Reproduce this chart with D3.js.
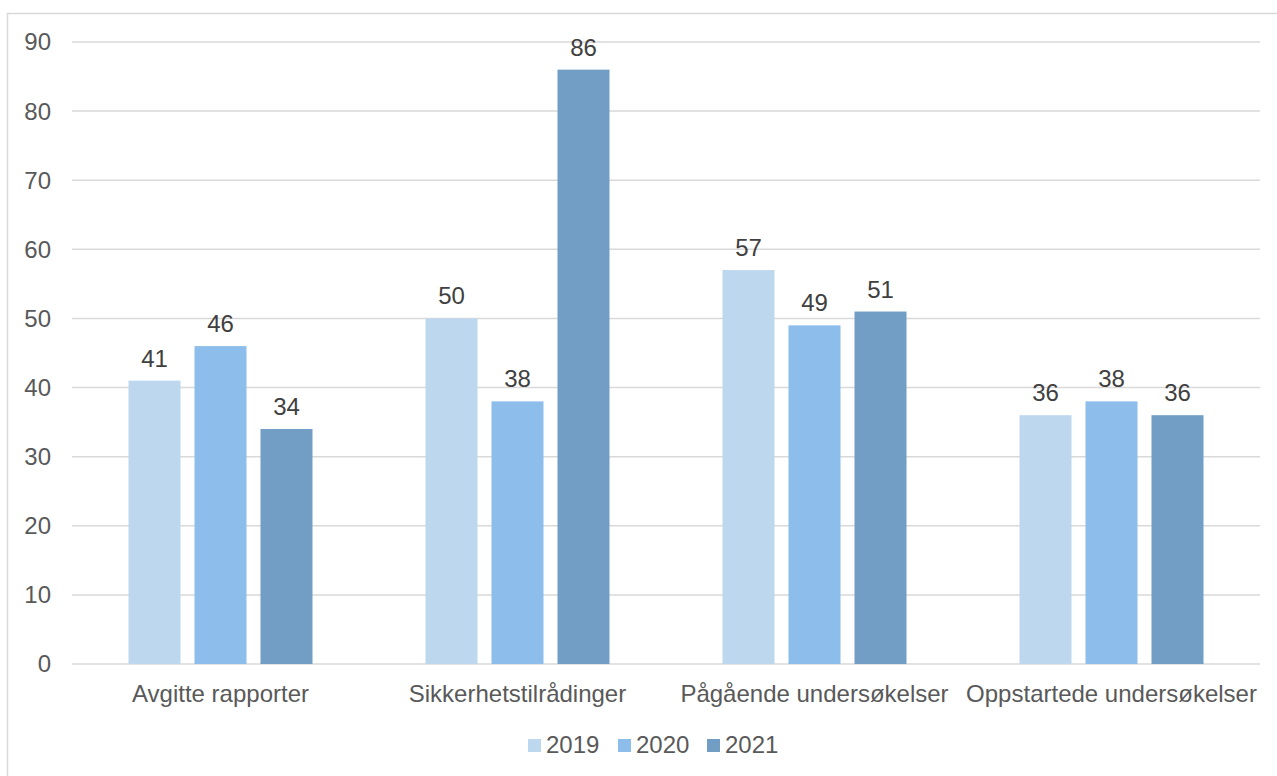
<!DOCTYPE html>
<html><head><meta charset="utf-8">
<script src="https://cdn.jsdelivr.net/npm/d3@7"></script>
<style>body{margin:0;background:#fff}svg{display:block}text{font-family:"Liberation Sans",Arial,sans-serif}</style>
</head><body><svg id="c" width="1277" height="776"></svg>
<script>
const categories = ["Avgitte rapporter","Sikkerhetstilrådinger","Pågående undersøkelser","Oppstartede undersøkelser"];
const series = ["2019","2020","2021"];
const values2019 = [41,50,57,36];
const values2020 = [46,38,49,38];
const values2021 = [34,86,51,36];
const yTicks = [0,10,20,30,40,50,60,70,80,90];
const colors = ["#BDD7EE","#8DBEEB","#729DC4"];
const allValues = [values2019, values2020, values2021];

(function(){
const svg = d3.select("#c");
const pL = 72, pR = 1260, pT = 42, pB = 664;
const fs = "24px";
svg.append("rect").attr("x",7.5).attr("y",13.5).attr("width",1300).attr("height",800)
  .attr("fill","none").attr("stroke","#d9d9d9").attr("stroke-width",1.5);

const y = d3.scaleLinear().domain([0,90]).range([pB, pT]);
const x0 = d3.scaleBand().domain(categories).range([pL,pR]).padding(0);
const groupW = 184;
const x1 = d3.scaleBand().domain(series).range([0,groupW]).paddingInner(0.212).paddingOuter(0);
const off = (x0.bandwidth()-groupW)/2;

svg.append("g").selectAll("line").data(yTicks).join("line")
  .attr("x1",pL).attr("x2",pR).attr("y1",d=>y(d)).attr("y2",d=>y(d))
  .attr("stroke","#d9d9d9").attr("stroke-width",1.5);

svg.append("g").selectAll("text").data(yTicks).join("text")
  .attr("x",51).attr("y",d=>y(d)).attr("dy","0.35em").attr("text-anchor","end")
  .attr("font-size",fs).attr("fill","#595959").text(d=>d);

const g = svg.append("g");
series.forEach((s,si)=>{
  const vals = allValues[si];
  g.selectAll(null).data(categories).join("rect")
    .attr("x",c=>x0(c)+off+x1(s)).attr("width",x1.bandwidth())
    .attr("y",(c,i)=>y(vals[i])).attr("height",(c,i)=>y(0)-y(vals[i]))
    .attr("fill",colors[si]);
  g.selectAll(null).data(categories).join("text")
    .attr("x",c=>x0(c)+off+x1(s)+x1.bandwidth()/2)
    .attr("y",(c,i)=>y(vals[i])-14).attr("text-anchor","middle")
    .attr("font-size",fs).attr("fill","#404040").text((c,i)=>vals[i]);
});

svg.append("g").selectAll("text").data(categories).join("text")
  .attr("x",c=>x0(c)+x0.bandwidth()/2).attr("y",702).attr("text-anchor","middle")
  .attr("font-size",fs).attr("fill","#595959").text(c=>c);

const legX = [528,618,707];
const lg = svg.append("g");
series.forEach((s,si)=>{
  lg.append("rect").attr("x",legX[si]).attr("y",739).attr("width",13).attr("height",13).attr("fill",colors[si]);
  lg.append("text").attr("x",legX[si]+18).attr("y",753).attr("font-size",fs).attr("fill","#595959").text(s);
});
})();
</script></body></html>
